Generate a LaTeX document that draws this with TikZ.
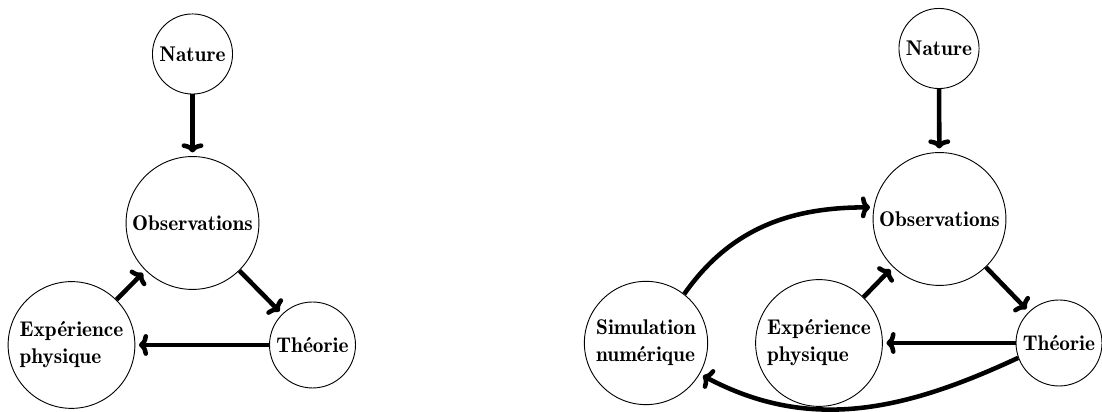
\documentclass[tikz,border=0pt]{standalone}
\usepackage{fontspec}
\usetikzlibrary{arrows.meta}
\begin{document}
\begin{tikzpicture}[x=0.55pt,y=0.55pt,
  circ/.style={circle,draw,line width=0.5pt,font=\fontsize{11.7}{14.9}\fontseries{b}\selectfont,align=left,inner sep=0.28em},
  arr/.style={line width=2.5pt,-{To[length=5pt,width=12pt]},shorten >=2pt}]
\useasboundingbox (0,0) rectangle (1102,412);
% left diagram
\node[circ] (natL) at (192.5,358) {Nature};
\node[circ] (obsL) at (192.5,189) {Observations};
\node[circ] (expL) at (71.5,67) {Expérience\\physique};
\node[circ] (theoL) at (312.5,67) {Théorie};
\draw[arr] (natL) -- (obsL);
\draw[arr] (obsL) -- (theoL);
\draw[arr] (expL) -- (obsL);
\draw[arr] (theoL) -- (expL);
% right diagram
\node[circ] (natR) at (939,363.5) {Nature};
\node[circ] (obsR) at (939.5,193) {Observations};
\node[circ] (theoR) at (1059,69) {Théorie};
\node[circ] (expR) at (819,69) {Expérience\\physique};
\node[circ] (simR) at (646,69) {Simulation\\numérique};
\draw[arr] (natR) -- (obsR);
\draw[arr] (obsR) -- (theoR);
\draw[arr] (expR) -- (obsR);
\draw[arr] (theoR) -- (expR);
\draw[arr] (simR.52) to[out=55,in=180] (obsR.170);
\draw[arr] (theoR.200) to[out=205,in=-28] (simR.-30);
\end{tikzpicture}
\end{document}
